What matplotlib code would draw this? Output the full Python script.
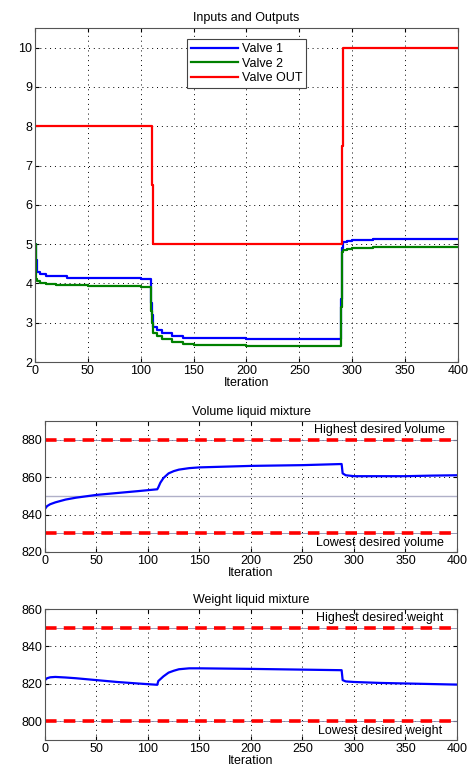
import numpy as np
import matplotlib
matplotlib.use("Agg")
import matplotlib.pyplot as plt

plt.rcParams['font.family'] = ['Liberation Sans', 'DejaVu Sans']
plt.rcParams['font.size'] = 9

# --- values ---
out_x = [0, 110, 111, 112, 289, 290, 291, 400]
out_y = [8, 8, 6.5, 5, 5, 7.5, 10, 10]

v1_x = [0, 1, 2, 5, 10, 20, 30, 50, 80, 100, 109, 110, 111, 112, 115, 120, 130, 140, 150, 200, 288, 289, 290, 291, 295, 300, 320, 400]
v1_y = [5.0, 4.6, 4.3, 4.25, 4.2, 4.18, 4.15, 4.14, 4.13, 4.12, 4.1, 3.5, 3.2, 2.9, 2.82, 2.75, 2.67, 2.62, 2.6, 2.59, 2.59, 3.6, 4.9, 5.05, 5.07, 5.1, 5.12, 5.12]

v2_x = [0, 1, 2, 5, 10, 20, 30, 50, 80, 100, 109, 110, 111, 112, 115, 120, 130, 140, 150, 200, 288, 289, 290, 291, 295, 300, 320, 400]
v2_y = [5.0, 4.1, 4.05, 4.0, 3.98, 3.97, 3.96, 3.94, 3.93, 3.92, 3.9, 3.3, 3.0, 2.75, 2.65, 2.58, 2.5, 2.45, 2.43, 2.42, 2.42, 3.4, 4.8, 4.85, 4.87, 4.89, 4.92, 4.92]

vol_x = [0, 2, 5, 10, 20, 30, 50, 70, 90, 109, 110, 112, 115, 120, 125, 130, 140, 150, 175, 200, 250, 288, 289, 292, 300, 350, 375, 400]
vol_y = [843, 844.5, 845.5, 846.5, 848, 849, 850.5, 851.5, 852.5, 853.5, 854.5, 857, 859.5, 862, 863.2, 864, 864.8, 865.2, 865.6, 866, 866.4, 867, 862, 861, 860.5, 860.5, 860.8, 861]
vol_mid = 850
vol_hi, vol_lo = 880, 830

wt_x = [0, 2, 5, 10, 20, 30, 50, 70, 90, 109, 110, 112, 115, 120, 125, 130, 140, 150, 200, 250, 288, 289, 292, 300, 325, 350, 400]
wt_y = [822, 823, 823.5, 823.7, 823.4, 823, 822, 821, 820.2, 819.5, 821.5, 822.5, 824, 826, 827, 827.8, 828.3, 828.3, 828, 827.6, 827.3, 822, 821.3, 821, 820.5, 820.2, 819.6]
wt_hi, wt_lo = 850, 800

fig = plt.figure(figsize=(4.74, 7.76), dpi=100)


def style(ax, xlabel='Iteration'):
    ax.grid(True, color='black', linestyle=(0, (1, 4)), linewidth=0.7)
    ax.tick_params(direction='in', top=True, right=True, length=3, labelsize=9, pad=2)
    for s in ax.spines.values():
        s.set_color('#555555')
        s.set_linewidth(0.8)
    ax.set_xlim(0, 400)
    ax.set_xticks(np.arange(0, 401, 50))
    ax.set_xlabel(xlabel, fontsize=9, labelpad=0)


# Inputs and Outputs
ax1 = fig.add_axes([0.0738, 0.5335, 0.8924, 0.4304])
ax1.plot(v1_x, v1_y, color='blue', lw=1.6, drawstyle='steps-post', label='Valve 1')
ax1.plot(v2_x, v2_y, color='green', lw=1.6, drawstyle='steps-post', label='Valve 2')
ax1.plot(out_x, out_y, color='red', lw=1.6, drawstyle='steps-post', label='Valve OUT')
ax1.set_ylim(2, 10.5)
ax1.set_yticks(np.arange(2, 11, 1))
ax1.set_title('Inputs and Outputs', fontsize=9, pad=5)
style(ax1)
leg = ax1.legend(loc='upper center', bbox_to_anchor=(0.5, 0.985), fontsize=9,
                 fancybox=False, framealpha=1, edgecolor='#444444',
                 handlelength=3.8, handletextpad=0.3, borderpad=0.3, labelspacing=0.2)
leg.get_frame().set_linewidth(0.8)

# Volume liquid mixture
ax2 = fig.add_axes([0.0949, 0.2887, 0.8692, 0.1688])
ax2.axhline(vol_mid, color='#b0b0c8', lw=1.0)
for yv in (vol_hi, vol_lo):
    ax2.axhline(yv, color='#8888aa', lw=0.6)
    ax2.axhline(yv, color='red', lw=2.6, linestyle=(0, (3.2, 2)))
ax2.plot(vol_x, vol_y, color='blue', lw=1.6)
ax2.set_ylim(820, 890)
ax2.set_yticks([820, 840, 860, 880])
ax2.set_title('Volume liquid mixture', fontsize=9, pad=4)
ax2.text(325, 882, 'Highest desired volume', fontsize=9, ha='center', va='bottom')
ax2.text(325, 828, 'Lowest desired volume', fontsize=9, ha='center', va='top')
style(ax2)

# Weight liquid mixture
ax3 = fig.add_axes([0.0949, 0.0464, 0.8692, 0.1688])
for yv in (wt_hi, wt_lo):
    ax3.axhline(yv, color='#8888aa', lw=0.6)
    ax3.axhline(yv, color='red', lw=2.6, linestyle=(0, (3.2, 2)))
ax3.plot(wt_x, wt_y, color='blue', lw=1.6)
ax3.set_ylim(790, 860)
ax3.set_yticks([800, 820, 840, 860])
ax3.set_title('Weight liquid mixture', fontsize=9, pad=4)
ax3.text(325, 852, 'Highest desired weight', fontsize=9, ha='center', va='bottom')
ax3.text(325, 798, 'Lowest desired weight', fontsize=9, ha='center', va='top')
style(ax3)

fig.savefig('out.png', dpi=100)
